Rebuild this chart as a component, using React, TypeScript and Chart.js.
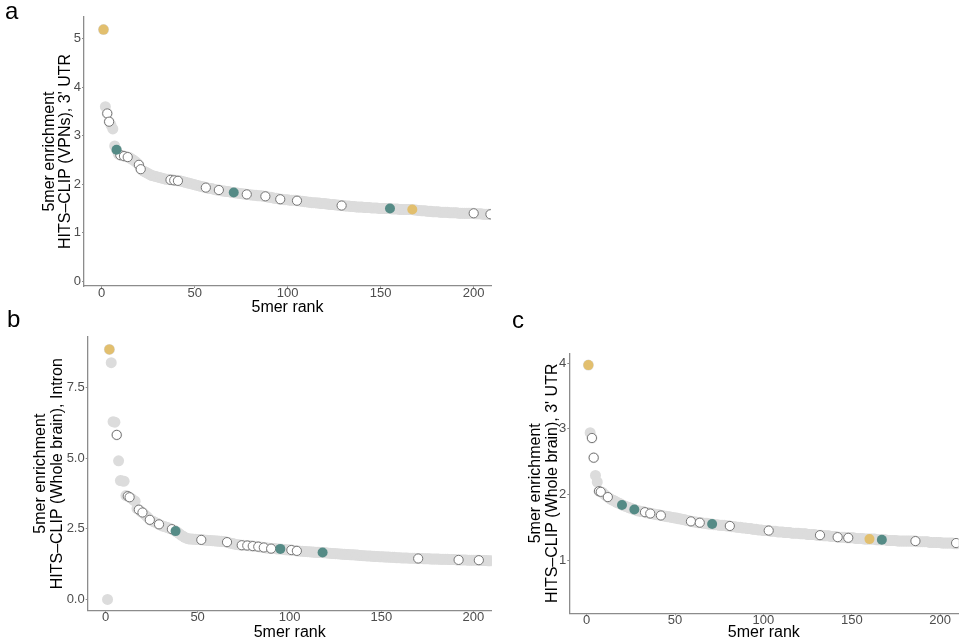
import React, { useEffect, useRef } from "react";
import { Chart, registerables } from "chart.js";

Chart.register(...registerables);

const FONT = "'Liberation Sans', Arial, Helvetica, sans-serif";

// ---------- Data (5mer enrichment by rank, ranks start at 1) ----------
const A_ENRICH = [
  5.19, 3.60, 3.46, 3.29, 3.22, 3.14, 2.79, 2.71, 2.62, 2.60,
  2.59, 2.58, 2.57, 2.56, 2.55, 2.52, 2.50, 2.47, 2.44, 2.40,
  2.31, 2.28, 2.26, 2.24, 2.22, 2.20, 2.18, 2.17, 2.16, 2.15,
  2.14, 2.13, 2.12, 2.11, 2.10, 2.10, 2.09, 2.09, 2.08, 2.08,
  2.07, 2.07, 2.06, 2.05, 2.04, 2.03, 2.02, 2.01, 2.00, 1.99,
  1.98, 1.97, 1.96, 1.95, 1.94, 1.93, 1.92, 1.91, 1.91, 1.90,
  1.89, 1.88, 1.88, 1.87, 1.86, 1.86, 1.85, 1.85, 1.84, 1.83,
  1.83, 1.82, 1.82, 1.81, 1.81, 1.80, 1.80, 1.79, 1.79, 1.78,
  1.78, 1.77, 1.77, 1.76, 1.76, 1.76, 1.75, 1.75, 1.74, 1.73,
  1.73, 1.72, 1.71, 1.71, 1.70, 1.69, 1.69, 1.68, 1.68, 1.68,
  1.67, 1.67, 1.67, 1.67, 1.66, 1.66, 1.65, 1.65, 1.64, 1.64,
  1.63, 1.63, 1.62, 1.62, 1.62, 1.61, 1.61, 1.60, 1.60, 1.60,
  1.59, 1.59, 1.58, 1.58, 1.58, 1.57, 1.57, 1.56, 1.56, 1.56,
  1.55, 1.55, 1.55, 1.54, 1.54, 1.54, 1.53, 1.53, 1.53, 1.53,
  1.52, 1.52, 1.52, 1.52, 1.51, 1.51, 1.51, 1.51, 1.50, 1.50,
  1.50, 1.50, 1.50, 1.50, 1.50, 1.49, 1.49, 1.49, 1.49, 1.48,
  1.48, 1.48, 1.48, 1.48, 1.48, 1.48, 1.48, 1.47, 1.47, 1.46,
  1.46, 1.45, 1.45, 1.45, 1.44, 1.44, 1.44, 1.43, 1.43, 1.43,
  1.43, 1.42, 1.42, 1.42, 1.42, 1.42, 1.41, 1.41, 1.41, 1.41,
  1.41, 1.40, 1.40, 1.40, 1.40, 1.40, 1.40, 1.40, 1.40, 1.40,
  1.39, 1.39, 1.39, 1.39, 1.38, 1.38, 1.38, 1.38, 1.38, 1.37,
  1.37, 1.37,
];
const A_WHITE_RANK = [3, 4, 10, 12, 14, 20, 21, 37, 39, 41, 56, 63, 78, 88, 96, 105, 129, 200, 209];
const A_WHITE_VAL = [3.46, 3.29, 2.60, 2.58, 2.56, 2.40, 2.31, 2.09, 2.08, 2.07, 1.93, 1.88, 1.79, 1.75, 1.69, 1.66, 1.56, 1.40, 1.38];
const A_TEAL_RANK = [8, 71, 155];
const A_TEAL_VAL = [2.71, 1.83, 1.50];
const A_GOLD_RANK = [1, 167];
const A_GOLD_VAL = [5.19, 1.48];

const B_ENRICH = [
  0.00, 8.86, 8.39, 6.30, 6.28, 5.83, 4.91, 4.21, 4.20, 4.19,
  3.68, 3.66, 3.62, 3.58, 3.52, 3.48, 3.22, 3.18, 3.12, 3.08,
  3.02, 2.96, 2.90, 2.82, 2.79, 2.76, 2.73, 2.70, 2.66, 2.63,
  2.60, 2.58, 2.56, 2.54, 2.51, 2.49, 2.46, 2.42, 2.38, 2.33,
  2.28, 2.24, 2.20, 2.17, 2.15, 2.14, 2.14, 2.13, 2.13, 2.12,
  2.12, 2.11, 2.11, 2.10, 2.10, 2.09, 2.09, 2.08, 2.08, 2.07,
  2.07, 2.06, 2.06, 2.05, 2.04, 2.03, 2.01, 1.99, 1.98, 1.96,
  1.95, 1.94, 1.93, 1.92, 1.92, 1.91, 1.91, 1.90, 1.90, 1.89,
  1.88, 1.88, 1.87, 1.86, 1.85, 1.84, 1.83, 1.82, 1.81, 1.80,
  1.80, 1.80, 1.79, 1.79, 1.79, 1.78, 1.77, 1.76, 1.76, 1.75,
  1.75, 1.74, 1.73, 1.72, 1.72, 1.71, 1.71, 1.70, 1.70, 1.69,
  1.69, 1.68, 1.68, 1.67, 1.67, 1.67, 1.66, 1.66, 1.65, 1.65,
  1.64, 1.64, 1.63, 1.63, 1.62, 1.62, 1.61, 1.61, 1.60, 1.60,
  1.59, 1.59, 1.58, 1.58, 1.58, 1.57, 1.57, 1.56, 1.56, 1.55,
  1.55, 1.54, 1.54, 1.54, 1.53, 1.53, 1.52, 1.52, 1.51, 1.51,
  1.51, 1.50, 1.50, 1.50, 1.49, 1.49, 1.49, 1.48, 1.48, 1.48,
  1.47, 1.47, 1.47, 1.47, 1.46, 1.46, 1.46, 1.46, 1.45, 1.45,
  1.45, 1.45, 1.44, 1.44, 1.44, 1.44, 1.43, 1.43, 1.43, 1.43,
  1.43, 1.42, 1.42, 1.42, 1.42, 1.42, 1.41, 1.41, 1.41, 1.41,
  1.40, 1.40, 1.40, 1.40, 1.40, 1.40, 1.39, 1.39, 1.39, 1.39,
  1.39, 1.39, 1.39, 1.38, 1.38, 1.38, 1.38, 1.37, 1.37, 1.37,
  1.37, 1.36,
];
const B_WHITE_RANK = [6, 12, 13, 18, 20, 24, 29, 36, 52, 66, 74, 77, 80, 83, 86, 90, 101, 104, 170, 192, 203];
const B_WHITE_VAL = [5.83, 3.66, 3.62, 3.18, 3.08, 2.82, 2.66, 2.49, 2.11, 2.03, 1.92, 1.91, 1.89, 1.87, 1.84, 1.80, 1.75, 1.72, 1.45, 1.40, 1.39];
const B_TEAL_RANK = [38, 95, 118];
const B_TEAL_VAL = [2.42, 1.79, 1.66];
const B_GOLD_RANK = [2];
const B_GOLD_VAL = [8.86];

const C_ENRICH = [
  3.97, 2.94, 2.86, 2.56, 2.29, 2.19, 2.05, 2.04, 2.03, 2.00,
  1.98, 1.96, 1.94, 1.92, 1.91, 1.90, 1.88, 1.87, 1.86, 1.84,
  1.83, 1.82, 1.81, 1.80, 1.79, 1.78, 1.77, 1.76, 1.75, 1.75,
  1.74, 1.74, 1.73, 1.72, 1.72, 1.71, 1.71, 1.70, 1.70, 1.69,
  1.69, 1.68, 1.68, 1.67, 1.67, 1.66, 1.66, 1.65, 1.65, 1.64,
  1.64, 1.63, 1.63, 1.62, 1.62, 1.61, 1.60, 1.60, 1.59, 1.59,
  1.58, 1.58, 1.57, 1.57, 1.57, 1.56, 1.56, 1.56, 1.55, 1.55,
  1.55, 1.54, 1.54, 1.54, 1.53, 1.53, 1.53, 1.53, 1.52, 1.52,
  1.52, 1.51, 1.51, 1.51, 1.50, 1.50, 1.50, 1.49, 1.49, 1.49,
  1.48, 1.48, 1.48, 1.47, 1.47, 1.47, 1.46, 1.46, 1.46, 1.45,
  1.45, 1.45, 1.45, 1.44, 1.44, 1.44, 1.44, 1.43, 1.43, 1.43,
  1.43, 1.42, 1.42, 1.42, 1.42, 1.41, 1.41, 1.41, 1.41, 1.41,
  1.40, 1.40, 1.40, 1.40, 1.39, 1.39, 1.39, 1.39, 1.39, 1.38,
  1.38, 1.38, 1.38, 1.37, 1.37, 1.37, 1.37, 1.36, 1.36, 1.36,
  1.36, 1.35, 1.35, 1.35, 1.35, 1.35, 1.34, 1.34, 1.34, 1.34,
  1.34, 1.33, 1.33, 1.33, 1.33, 1.33, 1.32, 1.32, 1.32, 1.32,
  1.32, 1.32, 1.32, 1.31, 1.31, 1.31, 1.31, 1.31, 1.31, 1.30,
  1.30, 1.30, 1.30, 1.30, 1.30, 1.29, 1.29, 1.29, 1.29, 1.29,
  1.29, 1.29, 1.29, 1.29, 1.29, 1.29, 1.28, 1.28, 1.28, 1.28,
  1.28, 1.28, 1.28, 1.27, 1.27, 1.27, 1.27, 1.27, 1.27, 1.27,
  1.26, 1.26, 1.26, 1.26, 1.26, 1.26, 1.26, 1.25, 1.25, 1.25,
  1.25, 1.25,
];
const C_WHITE_RANK = [3, 4, 7, 8, 12, 33, 36, 42, 59, 64, 81, 103, 132, 142, 148, 186, 209];
const C_WHITE_VAL = [2.86, 2.56, 2.05, 2.04, 1.96, 1.73, 1.71, 1.68, 1.59, 1.57, 1.52, 1.45, 1.38, 1.35, 1.34, 1.29, 1.26];
const C_TEAL_RANK = [20, 27, 71, 167];
const C_TEAL_VAL = [1.84, 1.77, 1.55, 1.31];
const C_GOLD_RANK = [1, 160];
const C_GOLD_VAL = [3.97, 1.32];

const X_TICKS = [0, 50, 100, 150, 200];
const A_Y_TICKS = [0, 1, 2, 3, 4, 5];
const B_Y_TICKS = [0, 2.5, 5, 7.5];
const C_Y_TICKS = [1, 2, 3, 4];
const X_TITLE = "5mer rank";
const A_Y_TITLE = ["5mer enrichment", "HITS\u2013CLIP (VPNs), 3' UTR"];
const B_Y_TITLE = ["5mer enrichment", "HITS\u2013CLIP (Whole brain), Intron"];
const C_Y_TITLE = ["5mer enrichment", "HITS\u2013CLIP (Whole brain), 3' UTR"];

// ---------- Styles ----------
const GRAY = "#dcdcdc";
const WHITE_STROKE = "#767676";
const TEAL = "#558b86";
const GOLD = "#e2bf6e";
const AXIS = "#8c8c8c";
const TICK_TEXT = "#4d4d4d";
const W = 964;
const H = 643;

type Spec = {
  enrich: number[];
  white: [number[], number[]];
  teal: [number[], number[]];
  gold: [number[], number[]];
  area: { l: number; t: number; r: number; b: number };
  yW: number;
  xH: number;
  xMin: number;
  xMax: number;
  yMin: number;
  yMax: number;
  yTicks: number[];
  yDec: boolean;
  yTitle: string[];
  yTitlePad: number;
  letter: string;
  letterX: number;
  letterY: number;
};

const pts = (ranks: number[], vals: number[]) => ranks.map((r, i) => ({ x: r, y: vals[i] }));

function makeChart(canvas: HTMLCanvasElement, s: Spec) {
  const mk = (label: string, data: any[], fill: string, stroke: string, radius: number, bw: number, order: number) => ({
    label,
    data,
    backgroundColor: fill,
    borderColor: stroke,
    pointBackgroundColor: fill,
    pointBorderColor: stroke,
    pointBorderWidth: bw,
    pointRadius: radius,
    pointHoverRadius: radius,
    order,
    clip: 0,
  });
  const letterPlugin = {
    id: "panelLetter",
    afterDraw(chart: any) {
      const ctx = chart.ctx;
      ctx.save();
      ctx.font = `24px ${FONT}`;
      ctx.fillStyle = "#000";
      ctx.textBaseline = "alphabetic";
      ctx.textAlign = "left";
      ctx.fillText(s.letter, s.letterX, s.letterY);
      ctx.restore();
    },
  };
  return new Chart(canvas, {
    type: "scatter",
    data: {
      datasets: [
        mk("all", s.enrich.map((v, i) => ({ x: i + 1, y: v })), GRAY, GRAY, 5.5, 0, 4),
        mk("white", pts(s.white[0], s.white[1]), "#ffffff", WHITE_STROKE, 4.6, 1, 3),
        mk("teal", pts(s.teal[0], s.teal[1]), TEAL, TEAL, 5, 0, 2),
        mk("gold", pts(s.gold[0], s.gold[1]), GOLD, GOLD, 5, 0, 1),
      ] as any,
    },
    options: {
      responsive: false,
      animation: false,
      devicePixelRatio: 1,
      events: [],
      layout: {
        padding: {
          left: s.area.l - s.yW,
          top: s.area.t,
          right: W - s.area.r,
          bottom: H - s.area.b - s.xH,
        },
      },
      plugins: { legend: { display: false }, tooltip: { enabled: false } },
      scales: {
        x: {
          type: "linear",
          min: s.xMin,
          max: s.xMax,
          afterFit: (sc: any) => {
            sc.height = s.xH;
          },
          afterBuildTicks: (sc: any) => {
            sc.ticks = X_TICKS.map((v) => ({ value: v }));
          },
          grid: { drawOnChartArea: false, drawTicks: true, tickLength: 2, color: AXIS, lineWidth: 1 },
          border: { display: true, color: AXIS, width: 1.3 },
          ticks: {
            color: TICK_TEXT,
            font: { family: FONT, size: 13, lineHeight: 1 },
            padding: -1.5,
            maxRotation: 0,
            autoSkip: false,
            callback: (v: any) => String(v),
          },
          title: {
            display: true,
            text: X_TITLE,
            color: "#000",
            font: { family: FONT, size: 16, lineHeight: 1.03 },
            padding: { top: 0, bottom: 0 },
          },
        },
        y: {
          type: "linear",
          min: s.yMin,
          max: s.yMax,
          afterFit: (sc: any) => {
            sc.width = s.yW;
          },
          afterBuildTicks: (sc: any) => {
            sc.ticks = s.yTicks.map((v) => ({ value: v }));
          },
          grid: { drawOnChartArea: false, drawTicks: true, tickLength: 2, color: AXIS, lineWidth: 1 },
          border: { display: true, color: AXIS, width: 1.3 },
          ticks: {
            color: TICK_TEXT,
            font: { family: FONT, size: 13, lineHeight: 1 },
            padding: 1,
            autoSkip: false,
            callback: (v: any) => (s.yDec ? Number(v).toFixed(1) : String(v)),
          },
          title: {
            display: true,
            text: s.yTitle,
            color: "#000",
            font: { family: FONT, size: 16, lineHeight: 1.03 },
            padding: { top: s.yTitlePad, bottom: 0 },
          },
        },
      },
    } as any,
    plugins: [letterPlugin],
  });
}

const SPEC_A: Spec = {
  enrich: A_ENRICH,
  white: [A_WHITE_RANK, A_WHITE_VAL],
  teal: [A_TEAL_RANK, A_TEAL_VAL],
  gold: [A_GOLD_RANK, A_GOLD_VAL],
  area: { l: 84, t: 17, r: 491, b: 286 },
  yW: 84,
  xH: 30.25,
  xMin: -9.5,
  xMax: 209.3,
  yMin: -0.1,
  yMax: 5.45,
  yTicks: A_Y_TICKS,
  yDec: false,
  yTitle: A_Y_TITLE,
  yTitlePad: 41.2,
  letter: "a",
  letterX: 5,
  letterY: 18.5,
};

const SPEC_B: Spec = {
  enrich: B_ENRICH,
  white: [B_WHITE_RANK, B_WHITE_VAL],
  teal: [B_TEAL_RANK, B_TEAL_VAL],
  gold: [B_GOLD_RANK, B_GOLD_VAL],
  area: { l: 87.7, t: 336.7, r: 491.7, b: 610.7 },
  yW: 87.7,
  xH: 30.5,
  xMin: -9.8,
  xMax: 210,
  yMin: -0.4,
  yMax: 9.31,
  yTicks: B_Y_TICKS,
  yDec: true,
  yTitle: B_Y_TITLE,
  yTitlePad: 32.8,
  letter: "b",
  letterX: 7,
  letterY: 327,
};

const SPEC_C: Spec = {
  enrich: C_ENRICH,
  white: [C_WHITE_RANK, C_WHITE_VAL],
  teal: [C_TEAL_RANK, C_TEAL_VAL],
  gold: [C_GOLD_RANK, C_GOLD_VAL],
  area: { l: 569.3, t: 353.3, r: 961.7, b: 613.3 },
  yW: 69.3,
  xH: 28,
  xMin: -9.8,
  xMax: 210.3,
  yMin: 0.19,
  yMax: 4.15,
  yTicks: C_Y_TICKS,
  yDec: false,
  yTitle: C_Y_TITLE,
  yTitlePad: 27.8,
  letter: "c",
  letterX: 512,
  letterY: 328,
};

export default function App() {
  const refA = useRef<HTMLCanvasElement>(null);
  const refB = useRef<HTMLCanvasElement>(null);
  const refC = useRef<HTMLCanvasElement>(null);

  useEffect(() => {
    const charts = [
      makeChart(refA.current!, SPEC_A),
      makeChart(refB.current!, SPEC_B),
      makeChart(refC.current!, SPEC_C),
    ];
    return () => charts.forEach((c) => c.destroy());
  }, []);

  const cs: React.CSSProperties = { position: "absolute", left: 0, top: 0, width: W, height: H, display: "block" };
  return (
    <div style={{ position: "absolute", left: 0, top: 0, width: W, height: H, background: "#fff", overflow: "hidden" }}>
      <canvas ref={refA} width={W} height={H} style={cs} />
      <canvas ref={refB} width={W} height={H} style={cs} />
      <canvas ref={refC} width={W} height={H} style={cs} />
    </div>
  );
}
